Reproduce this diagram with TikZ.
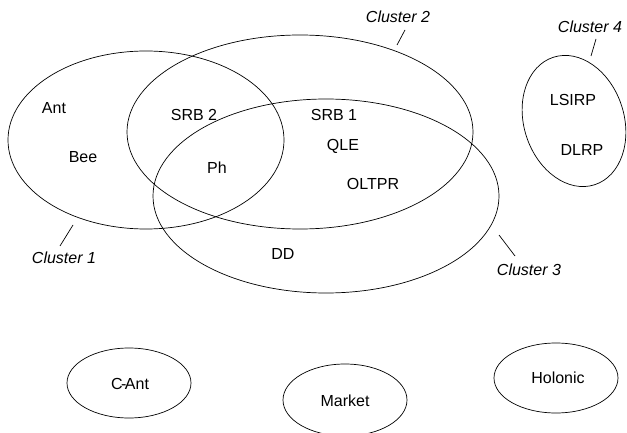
\documentclass[tikz,border=0pt]{standalone}
\usepackage{fontspec}
\setmainfont{Liberation Sans}
\begin{document}
\begin{tikzpicture}[x=1pt,y=1pt,
  ring/.style={draw=black, line width=0.7pt},
  lead/.style={draw=black, line width=0.7pt},
  txt/.style={font=\fontsize{16}{19}\selectfont, inner sep=0pt},
  lab/.style={font=\fontsize{16}{19}\selectfont\itshape, inner sep=0pt}]
\useasboundingbox (0,0) rectangle (627,-433);
% cluster ellipses
\draw[ring] (146,-140) ellipse [x radius=138, y radius=89];
\draw[ring] (300,-132) ellipse [x radius=173, y radius=97];
\draw[ring] (326,-196) ellipse [x radius=173, y radius=97];
\draw[ring, rotate around={18:(574,-121)}] (574,-121) ellipse [x radius=50, y radius=67];
% approach ellipses
\draw[ring] (129,-383) ellipse [x radius=62, y radius=35];
\draw[ring] (345,-400) ellipse [x radius=62, y radius=36];
\draw[ring] (556,-378) ellipse [x radius=62, y radius=35];
% texts
\node[txt] (ant) at (54,-108) {Ant};
\node[txt] (bee) at (83,-157) {Bee};
\node[txt] (srb2) at (194,-115) {SRB 2};
\node[txt] (ph) at (217,-168) {Ph};
\node[txt] (srb1) at (334,-115) {SRB 1};
\node[txt] (qle) at (343,-146) {QLE};
\node[txt] (oltpr) at (373,-184) {OLTPR};
\node[txt] (dd) at (283,-254) {DD};
\node[txt] (lsirp) at (573,-100) {LSIRP};
\node[txt] (dlrp) at (582,-150) {DLRP};
\node[txt] (cant) at (130,-384) {C\kern-1.5pt-\kern-1.5ptAnt};
\node[txt] (market) at (345,-401) {Market};
\node[txt] (holonic) at (558,-378) {Holonic};
% cluster labels
\node[lab] (c1) at (64,-258) {Cluster 1};
\node[lab] (c2) at (398,-17) {Cluster 2};
\node[lab] (c3) at (529,-270) {Cluster 3};
\node[lab] (c4) at (590,-27) {Cluster 4};
% leader lines
\coordinate (c1a) at (73,-225); \coordinate (c1b) at (60,-246);
\coordinate (c2a) at (405,-30); \coordinate (c2b) at (397,-45);
\coordinate (c3a) at (499,-235); \coordinate (c3b) at (515,-256);
\coordinate (c4a) at (596,-39); \coordinate (c4b) at (591,-56);
\draw[lead] (c1a) -- (c1b);
\draw[lead] (c2a) -- (c2b);
\draw[lead] (c3a) -- (c3b);
\draw[lead] (c4a) -- (c4b);
\end{tikzpicture}
\end{document}
